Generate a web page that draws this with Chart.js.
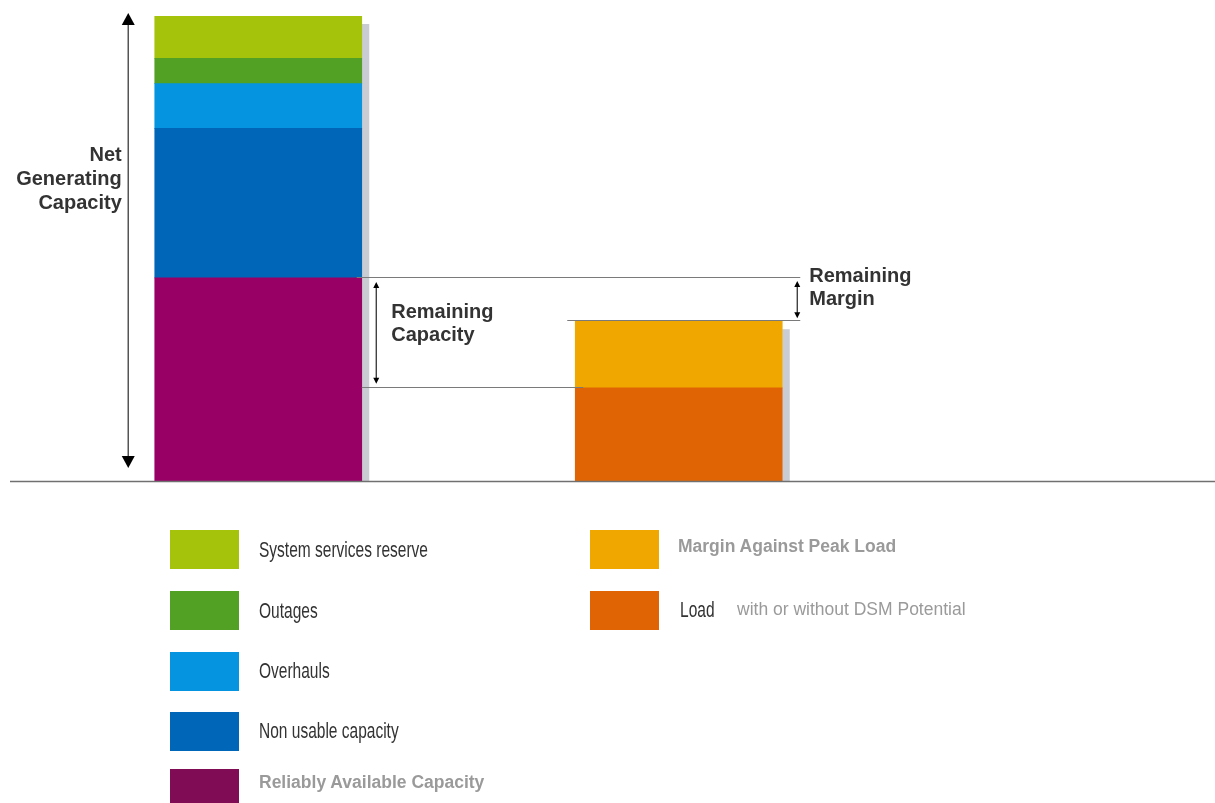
<!DOCTYPE html>
<html><head><meta charset="utf-8">
<script src="https://cdn.jsdelivr.net/npm/chart.js@4.4.1/dist/chart.umd.min.js"></script>
<style>
html,body{margin:0;padding:0;background:#fff;overflow:hidden}
#wrap{position:relative;width:1215px;height:803px;overflow:hidden}
#c{position:absolute;left:0;top:0}
.sw{position:absolute;width:69px;height:39px}
.lt{position:absolute;white-space:nowrap;line-height:1;transform:translateY(-50%)}
.cond{font-family:"Liberation Sans",Arial,sans-serif;font-size:22px;color:#333;transform:translateY(-50%) scaleX(0.705);transform-origin:left center}
.bold{font-family:"Liberation Sans",Arial,sans-serif;font-weight:bold;font-size:17.5px;color:#9a9a9a}
.reg{font-family:"Liberation Sans",Arial,sans-serif;font-size:17.5px;color:#9a9a9a}
</style></head>
<body>
<div id="wrap"><canvas id="c" width="1215" height="803"></canvas></div>
<script>
// ---- data ----
const categories = ['Net Generating Capacity', 'Peak Load'];
const capacitySeries = ['Reliably Available Capacity', 'Non usable capacity', 'Overhauls', 'Outages', 'System services reserve'];
const capacityValues = [43.8, 32.1, 9.6, 5.4, 9.1];
const loadSeries = ['Load', 'Margin Against Peak Load'];
const loadValues = [20.2, 14.3];
const loadNote = 'with or without DSM Potential';
const annotationLabels = {
  net: ['Net', 'Generating', 'Capacity'],
  remCap: ['Remaining', 'Capacity'],
  remMargin: ['Remaining', 'Margin']
};

// ---- styles ----
const capacityColors = ['#990066', '#0066b8', '#0494e0', '#52a024', '#a4c30a'];
const capacityLegendColors = ['#800c55', '#0066b8', '#0494e0', '#52a024', '#a4c30a'];
const loadColors = ['#e06404', '#f0a800'];

const datasets = [];
capacitySeries.forEach((name, i) => datasets.push({
  label: name, data: [capacityValues[i], null], backgroundColor: capacityColors[i], stack: 's'
}));
loadSeries.forEach((name, i) => datasets.push({
  label: name, data: [null, loadValues[i]], backgroundColor: loadColors[i], stack: 's'
}));

function barBox(chart, idx) {
  let top = Infinity, left = 0, right = 0, base = -Infinity;
  chart.data.datasets.forEach((ds, di) => {
    if (ds.data[idx] == null) return;
    const el = chart.getDatasetMeta(di).data[idx];
    top = Math.min(top, el.y);
    base = Math.max(base, el.base);
    left = el.x - el.width / 2; right = el.x + el.width / 2;
  });
  return {top, left, right, base};
}

const shadowPlugin = {
  id: 'shadow',
  beforeDatasetsDraw(chart) {
    const ctx = chart.ctx;
    ctx.save();
    ctx.fillStyle = '#c9ccd3';
    [0, 1].forEach(i => {
      const b = barBox(chart, i);
      ctx.fillRect(b.right, b.top + 8, 7.5, b.base - b.top - 8);
    });
    ctx.restore();
  }
};

function vArrow(ctx, x, y1, y2, hw, hh, lw, color) {
  ctx.save();
  ctx.strokeStyle = color; ctx.fillStyle = '#000'; ctx.lineWidth = lw;
  ctx.beginPath(); ctx.moveTo(x, y1 + hh - 1); ctx.lineTo(x, y2 - hh + 1); ctx.stroke();
  ctx.beginPath(); ctx.moveTo(x, y1); ctx.lineTo(x - hw / 2, y1 + hh); ctx.lineTo(x + hw / 2, y1 + hh); ctx.closePath(); ctx.fill();
  ctx.beginPath(); ctx.moveTo(x, y2); ctx.lineTo(x - hw / 2, y2 - hh); ctx.lineTo(x + hw / 2, y2 - hh); ctx.closePath(); ctx.fill();
  ctx.restore();
}
function hLine(ctx, x1, x2, y, color, lw) {
  ctx.save();
  ctx.strokeStyle = color; ctx.lineWidth = lw || 1;
  const yy = Math.round(y) - 0.5;
  ctx.beginPath(); ctx.moveTo(x1, yy); ctx.lineTo(x2, yy); ctx.stroke();
  ctx.restore();
}

const annotPlugin = {
  id: 'annot',
  afterDatasetsDraw(chart) {
    const ctx = chart.ctx, y = chart.scales.y;
    const base = y.getPixelForValue(0);
    const capTop = y.getPixelForValue(capacityValues.reduce((a, b) => a + b, 0));
    const reliable = y.getPixelForValue(capacityValues[0]);
    const loadTop = y.getPixelForValue(loadValues[0]);
    const peakTop = y.getPixelForValue(loadValues[0] + loadValues[1]);
    const b1 = barBox(chart, 0), b2 = barBox(chart, 1);

    // baseline
    hLine(ctx, 10, chart.width, base, '#707070', 1.3);
    // guide lines
    hLine(ctx, b1.right - 5, b2.right + 18, reliable, '#7a7a7a', 1);
    hLine(ctx, b1.right, b2.left + 8, loadTop, '#7a7a7a', 1);
    hLine(ctx, b2.left - 8, b2.right + 18, peakTop, '#7a7a7a', 1);

    // arrows
    vArrow(ctx, b1.left - 26.5, capTop - 3, base - 14, 13, 12, 1.5, '#555');
    vArrow(ctx, b1.right + 14.5, reliable + 4, loadTop - 4, 6, 6, 1.2, '#222');
    vArrow(ctx, b2.right + 15, reliable + 3, peakTop - 3, 6, 6, 1.2, '#222');

    // labels
    ctx.save();
    ctx.font = 'bold 20px "Liberation Sans", Arial, sans-serif';
    ctx.fillStyle = '#333';
    ctx.textBaseline = 'alphabetic';
    ctx.textAlign = 'right';
    annotationLabels.net.forEach((t, i) => ctx.fillText(t, b1.left - 33, 161 + i * 24));
    ctx.textAlign = 'left';
    annotationLabels.remCap.forEach((t, i) => ctx.fillText(t, b1.right + 29.5, reliable + 40 + i * 23.5));
    annotationLabels.remMargin.forEach((t, i) => ctx.fillText(t, b2.right + 27, reliable + 4 + i * 23.5));
    ctx.restore();
  }
};

new Chart(document.getElementById('c'), {
  type: 'bar',
  data: { labels: categories, datasets },
  options: {
    responsive: false,
    animation: false,
    layout: { padding: { left: 48, right: 326, top: 16, bottom: 321 } },
    datasets: { bar: { barThickness: 207, borderWidth: 0 } },
    plugins: { legend: { display: false }, tooltip: { enabled: false } },
    scales: {
      x: { display: false, stacked: true, offset: true },
      y: { display: false, stacked: true, min: 0, max: 100 }
    }
  },
  plugins: [shadowPlugin, annotPlugin]
});

// ---- legend (HTML) ----
const wrap = document.getElementById('wrap');
function addSw(x, top, color) {
  const d = document.createElement('div'); d.className = 'sw';
  d.style.left = x + 'px'; d.style.top = top + 'px'; d.style.background = color;
  wrap.appendChild(d);
}
function addText(x, cy, text, cls) {
  const s = document.createElement('div'); s.className = 'lt ' + cls;
  s.style.left = x + 'px'; s.style.top = cy + 'px'; s.textContent = text;
  wrap.appendChild(s); return s;
}
const leftTops = [530, 591, 652, 712, 769];
const leftCenters = [550, 611, 671, 731, 783];
const leftOrder = [4, 3, 2, 1, 0];
leftOrder.forEach((si, r) => {
  addSw(170, leftTops[r], capacityLegendColors[si]);
  addText(259, leftCenters[r], capacitySeries[si], si === 0 ? 'bold' : 'cond');
});
const rightTops = [530, 591];
const rightCenters = [547, 610];
[1, 0].forEach((si, r) => {
  addSw(590, rightTops[r], loadColors[si]);
  if (si === 1) addText(678, rightCenters[r], loadSeries[si], 'bold');
  else { addText(680, rightCenters[r], loadSeries[si], 'cond'); addText(737, rightCenters[r], loadNote, 'reg'); }
});
</script>
</body></html>
